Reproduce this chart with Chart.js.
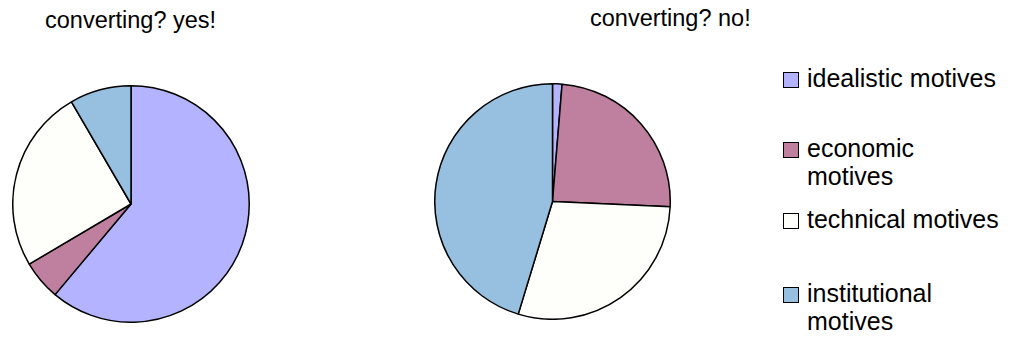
<!DOCTYPE html>
<html>
<head>
<meta charset="utf-8">
<script src="https://cdn.jsdelivr.net/npm/chart.js@4"></script>
<style>
  html, body { margin: 0; padding: 0; background: #fff; }
  body { width: 1012px; height: 343px; position: relative; overflow: hidden;
         font-family: "Liberation Sans", Arial, sans-serif; color: #000; }
  .pie { position: absolute; }
  .title { position: absolute; font-size: 23.5px; line-height: 1; white-space: nowrap; }
  .leg { position: absolute; left: 807px; width: 197px; font-size: 25px; line-height: 28px; }
  .box { position: absolute; left: 783px; width: 14px; height: 14px; border: 1.5px solid #000; }
</style>
</head>
<body>
<div class="title" style="left:45px; top:9px;" id="titleYes"></div>
<div class="title" style="left:590px; top:7px;" id="titleNo"></div>
<div class="pie" style="left:12px; top:85px; width:238px; height:238px;"><canvas id="pieYes"></canvas></div>
<div class="pie" style="left:434px; top:83px; width:237px; height:237px;"><canvas id="pieNo"></canvas></div>
<div id="legend"></div>

<script>
const categories = ["idealistic motives", "economic motives", "technical motives", "institutional motives"];
const colors = ["#b3b3ff", "#bf809f", "#fefefb", "#97bfdf"];
const titles = ["converting? yes!", "converting? no!"];

// share of each motive (%)
const yesValues = [61.1, 5.4, 25.1, 8.4];
const noValues = [1.3, 24.4, 29.0, 45.3];

document.getElementById("titleYes").textContent = titles[0];
document.getElementById("titleNo").textContent = titles[1];

function makePie(id, values) {
  const ctx = document.getElementById(id).getContext("2d");
  return new Chart(ctx, {
    type: "pie",
    data: {
      labels: categories,
      datasets: [
        {
          data: values,
          backgroundColor: colors,
          borderColor: "#000",
          borderWidth: 1.5,
        },
      ],
    },
    options: {
      responsive: true,
      maintainAspectRatio: false,
      animation: false,
      layout: { padding: 0 },
      plugins: {
        legend: { display: false },
        tooltip: { enabled: false },
      },
    },
  });
}

makePie("pieYes", yesValues);
makePie("pieNo", noValues);

/* legend on the right, text wraps like the original */
const legendTops = [64, 134, 205, 279];
const legend = document.getElementById("legend");
categories.forEach((c, i) => {
  const box = document.createElement("div");
  box.className = "box";
  box.style.top = (legendTops[i] + 8) + "px";
  box.style.background = colors[i];
  legend.appendChild(box);

  const txt = document.createElement("div");
  txt.className = "leg";
  txt.style.top = legendTops[i] + "px";
  txt.textContent = c;
  legend.appendChild(txt);
});
</script>
</body>
</html>
